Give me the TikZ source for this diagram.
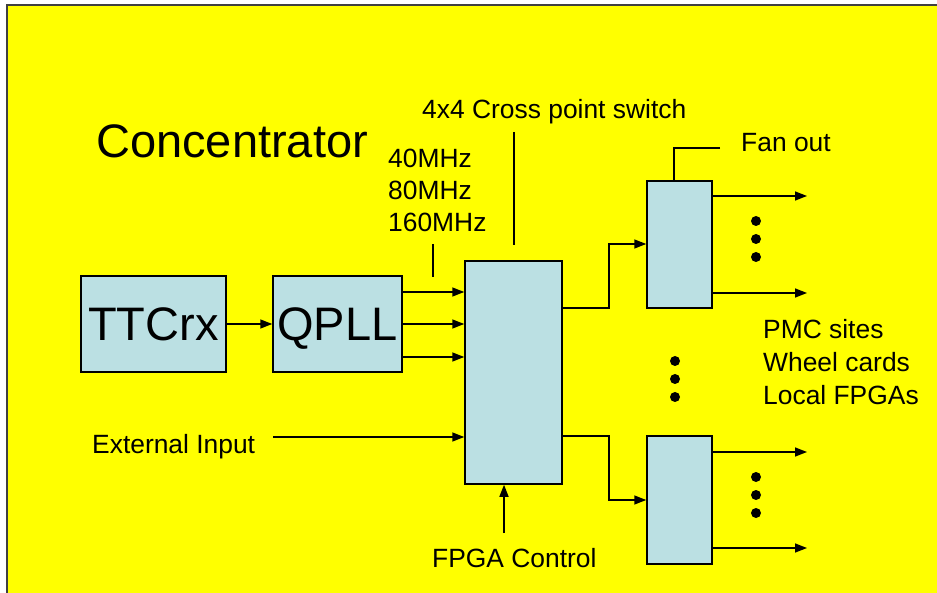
\documentclass[tikz,border=0pt]{standalone}
\usepackage{fontspec}
\setmainfont{Liberation Sans}
\usetikzlibrary{arrows.meta}
\definecolor{ppyellow}{RGB}{255,255,0}
\definecolor{boxblue}{RGB}{187,224,227}
\begin{document}
\begin{tikzpicture}[x=1pt,y=-1pt,
  blk/.style={draw=black, fill=boxblue, line width=1.5pt, inner sep=0pt, rectangle},
  big/.style={font=\fontsize{47}{50}\selectfont},
  lbl/.style={anchor=base west, inner sep=0pt, font=\fontsize{26.4}{30}\selectfont},
  wire/.style={line width=1.6pt},
  arr/.style={line width=1.6pt, -{Triangle[length=12pt,width=9pt]}},
  dot/.style={fill=black}]
\useasboundingbox (0,0) rectangle (937,593);
\fill[white] (0,0) rectangle (937,593);
\fill[ppyellow] (7,5) rectangle (950,610);
\draw[line width=1.6pt, black!75] (7,610) -- (7,5) -- (950,5);

% boxes
\node[blk, big, minimum width=145pt, minimum height=96pt, text depth=0pt] (ttc) at (153.5,324) {TTCrx};
\node[blk, big, minimum width=129pt, minimum height=96pt, text depth=0pt] (qpll) at (337.5,324) {QPLL};
\node[blk, minimum width=97pt, minimum height=223pt] (cross) at (513.5,372.5) {};
\node[blk, minimum width=65pt, minimum height=127pt] (fan1) at (679.5,244.5) {};
\node[blk, minimum width=65pt, minimum height=128pt] (fan2) at (679.5,500) {};

% labels
\node[lbl, font=\fontsize{47}{50}\selectfont] (title) at (96,158) {Concentrator};
\node[lbl] (xps) at (422,119) {4x4 Cross point switch};
\node[lbl] (f40) at (388,168) {40MHz};
\node[lbl] (f80) at (388,200) {80MHz};
\node[lbl] (f160) at (388,232) {160MHz};
\node[lbl] (fanout) at (741,152) {Fan out};
\node[lbl] (pmc) at (763,339) {PMC sites};
\node[lbl] (wheel) at (763,372) {Wheel cards};
\node[lbl] (local) at (763,404) {Local FPGAs};
\node[lbl] (ext) at (92,453) {External Input};
\node[lbl] (fpga) at (432,567) {FPGA Control};

% coordinates
\coordinate (extS) at (273,437);
\coordinate (fcS) at (504,533);
\coordinate (xpsA) at (514,132);
\coordinate (xpsB) at (514,245);
\coordinate (mhzA) at (433,244);
\coordinate (mhzB) at (433,277);
\coordinate (fanA) at (720,148);
\coordinate (fanB) at (674,148);
\coordinate (o1) at (807,196);
\coordinate (o2) at (807,293);
\coordinate (o3) at (807,452);
\coordinate (o4) at (807,548);

% connectors
\draw[arr] (ttc.east) -- (qpll.west);
\draw[arr] (qpll.east |- 0,292) -- (cross.west |- 0,292);
\draw[arr] (qpll.east |- 0,324) -- (cross.west |- 0,324);
\draw[arr] (qpll.east |- 0,357) -- (cross.west |- 0,357);
\draw[arr] (extS) -- (cross.west |- extS);
\draw[arr] (fcS) -- (fcS |- cross.south);
\draw[wire] (xpsA) -- (xpsB);
\draw[wire] (mhzA) -- (mhzB);
\draw[wire] (fanA) -- (fanB) -- (fanB |- fan1.north);
\draw[arr] (cross.east |- 0,308) -- (609,308) -- (609,244) -- (fan1.west |- 0,244);
\draw[arr] (cross.east |- 0,436) -- (609,436) -- (609,500) -- (fan2.west |- 0,500);
\draw[arr] (fan1.east |- o1) -- (o1);
\draw[arr] (fan1.east |- o2) -- (o2);
\draw[arr] (fan2.east |- o3) -- (o3);
\draw[arr] (fan2.east |- o4) -- (o4);

% dots
\foreach \y in {221,239,257} \fill[dot] (756,\y) circle[radius=5pt];
\foreach \y in {477,495,513} \fill[dot] (756,\y) circle[radius=5pt];
\foreach \y in {361,379,397} \fill[dot] (675,\y) circle[radius=5pt];
\end{tikzpicture}
\end{document}
